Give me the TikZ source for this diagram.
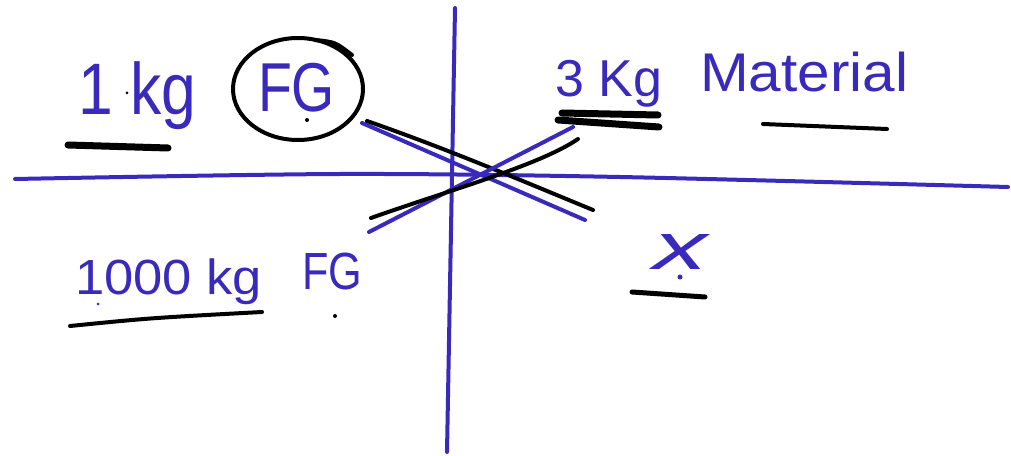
\documentclass[tikz,border=0pt]{standalone}
\usepackage{fontspec}
\setmainfont{Liberation Sans}
\usepackage{graphicx}
\newlength\pxu \setlength\pxu{0.03cm}
\newcommand\hw[3]{\resizebox*{#1\pxu}{#2\pxu}{#3}}
\definecolor{ink}{RGB}{58,42,188}
\tikzset{
  bl/.style={draw=ink, line width=4\pxu, line cap=round, line join=round},
  bk/.style={draw=black, line width=4\pxu, line cap=round, line join=round},
  ul/.style={draw=black, line width=7\pxu, line cap=round},
  txt/.style={inner sep=0pt, outer sep=0pt, text=ink, anchor=north west},
  dotb/.style={fill=ink, draw=none},
  dotk/.style={fill=black, draw=none}
}
\begin{document}
\begin{tikzpicture}[x=0.03cm, y=-0.03cm]
\useasboundingbox (0,0) rectangle (1011,456);
% axes
\draw[bl] (455,8) -- (447,452);
\draw[bl] plot[smooth] coordinates {(15,179) (340,174) (620,177) (1008,187)};
% texts
\node[txt] (t1kg) at (78,62) {\hw{118}{68}{1 kg}};
\node[txt] (tfg1) at (258,63) {\hw{77}{49}{FG}};
\node[txt] (t3kg) at (555,60) {\hw{107}{47}{3 Kg}};
\node[txt] (tmat) at (700,52) {\hw{208}{40}{Material}};
\node[txt] (t1000) at (75,259) {\hw{187}{46}{1000 kg}};
\node[txt] (tfg2) at (302,253) {\hw{60}{37}{FG}};
\node[txt] (tx) at (653,235) {\hw{54}{35}{\itshape x}};
% circle around FG
\draw[bk] (298,89) ellipse [x radius=65, y radius=51];
\draw[bk] (315,40) .. controls (335,42) .. (352,55);
% crossing lines
\draw[bl] (362,123) -- (585,220);
\draw[bk] (367,121) .. controls (450,150) and (520,180) .. (593,210);
\draw[bl] (369,232) -- (573,127);
\draw[bk] (371,218) .. controls (450,190) and (540,165) .. (578,139);
% underlines
\draw[ul] (68,145) -- (168,148);
\draw[ul] (562,113) -- (658,115);
\draw[ul] (558,120) -- (659,127);
\draw[bk] (763,124) -- (887,129);
\draw[bk] (70,326) .. controls (150,318) .. (262,312);
\draw[bk, line width=5\pxu] (632,292) -- (705,297);
% stray dots
\fill[dotk] (307,120) circle (2);
\fill[dotk] (127,93) circle (1.5);
\fill[dotk] (335,316) circle (2);
\fill[dotb] (680,277) circle (2.5);
\fill[dotb] (98,304) circle (1.5);
\end{tikzpicture}
\end{document}
